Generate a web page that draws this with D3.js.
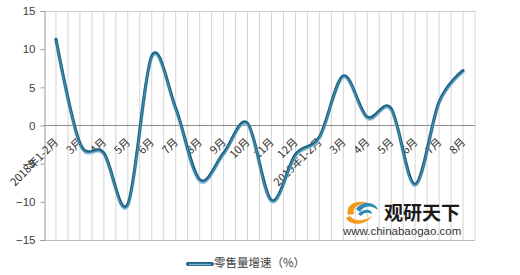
<!DOCTYPE html>
<html><head><meta charset="utf-8">
<script src="https://cdn.jsdelivr.net/npm/d3@7"></script>
<style>body{margin:0;background:#fff}svg{display:block;font-family:"Noto Sans CJK SC","DejaVu Sans",sans-serif}</style>
</head><body><svg id="c" width="520" height="275"></svg>
<script>
const categories = ["2018年1-2月","3月","4月","5月","6月","7月","8月","9月","10月","11月","12月","2019年1-2月","3月","4月","5月","6月","7月","8月"];
const values = [11.3,-2.3,-3.6,-10.3,9.1,2.3,-7.1,-3.6,0.3,-9.8,-3.8,-1.5,6.5,1.1,2.2,-7.7,3.1,7.2];
const yTicks = [15,10,5,0,-5,-10,-15];
const seriesName = "零售量增速（%）";

const svg = d3.select("#c");
const L=44, R=475, T=11, B=240;
const x = d3.scaleBand().domain(d3.range(categories.length)).range([L,R]);
const y = d3.scaleLinear().domain([-15,15]).range([B,T]);
const bw = x.bandwidth();

// vertical gridlines at category boundaries and centres
const gl = [];
categories.forEach((c,i)=>{ gl.push(x(i)+bw/2); gl.push(x(i)+bw); });
svg.append("g").selectAll("line").data(gl).join("line")
  .attr("x1",d=>d).attr("x2",d=>d).attr("y1",T).attr("y2",B)
  .attr("stroke","#d4d4d4").attr("stroke-width",1);
svg.append("line").attr("x1",L).attr("x2",R).attr("y1",T+0.5).attr("y2",T+0.5).attr("stroke","#cfcfcf");
svg.append("line").attr("x1",L).attr("x2",R).attr("y1",B+0.5).attr("y2",B+0.5).attr("stroke","#bdbdbd");
svg.append("line").attr("x1",L).attr("x2",R).attr("y1",y(0)).attr("y2",y(0)).attr("stroke","#8c8c8c");

// y axis
const ya = svg.append("g").attr("transform",`translate(${L+0.5},0)`)
  .call(d3.axisLeft(y).tickValues(yTicks).tickSize(4).tickPadding(5).tickFormat(d3.format("d")));
ya.select(".domain").attr("stroke","#9a9a9a");
ya.selectAll(".tick line").attr("stroke","#9a9a9a");
ya.selectAll("text").attr("font-size",11.5).attr("fill","#404040").attr("font-family","'Liberation Sans',Arial,sans-serif");

// x labels rotated
svg.append("g").selectAll("text").data(categories).join("text")
  .attr("transform",(d,i)=>`translate(${x(i)+bw/2+1},${y(0)+15}) rotate(-45)`)
  .attr("text-anchor","end").attr("dominant-baseline","middle")
  .attr("font-size",11).attr("fill","#303030").text(d=>d);

// line
const line = d3.line().x((d,i)=>x(i)+bw/2).y(d=>y(d)).curve(d3.curveCatmullRom.alpha(0));
svg.append("path").datum(values).attr("d",line).attr("fill","none")
  .attr("stroke","#a9cfe0").attr("stroke-width",3.5).attr("transform","translate(0,1.3)").attr("stroke-linecap","round");
svg.append("path").datum(values).attr("d",line).attr("fill","none")
  .attr("stroke","#1d6486").attr("stroke-width",3).attr("stroke-linecap","round");
svg.append("path").datum(values).attr("d",line).attr("fill","none")
  .attr("stroke","#5f9fbe").attr("stroke-width",0.8).attr("transform","translate(0,1)");

// watermark
const wm = svg.append("g");
wm.append("path").attr("d","M348,215 C345,205 356,199 368,203 C360,203 352,207 354,214 Z").attr("fill","#f29a1d");
wm.append("path").attr("d","M346,218 C350,226 366,226 372,216 C366,221 354,222 350,216 Z").attr("fill","#f29a1d");
wm.append("path").attr("d","M356,209 C362,200 376,202 378,210 C372,205 364,205 360,212 Z").attr("fill","#2d8bb5");
wm.append("path").attr("d","M358,214 C364,208 372,209 372,214 C368,212 364,212 361,216 Z").attr("fill","#2d8bb5");
wm.append("text").attr("x",384).attr("y",220).attr("font-size",19).attr("font-weight","bold").attr("fill","#1a1a1a").text("观研天下");
wm.append("text").attr("x",343).attr("y",235).attr("font-size",11.5).attr("fill","#333").attr("font-family","'Liberation Sans',Arial,sans-serif").text("www.chinabaogao.com");

// legend
const lg = svg.append("g");
lg.append("line").attr("x1",188).attr("x2",212).attr("y1",264).attr("y2",264).attr("stroke","#1d6486").attr("stroke-width",4).attr("stroke-linecap","round");
lg.append("line").attr("x1",189).attr("x2",211).attr("y1",264.5).attr("y2",264.5).attr("stroke","#7db4cf").attr("stroke-width",1.4);
lg.append("text").attr("x",214).attr("y",264).attr("dominant-baseline","middle").attr("font-size",11.5).attr("fill","#404040").text(seriesName);
</script></body></html>
